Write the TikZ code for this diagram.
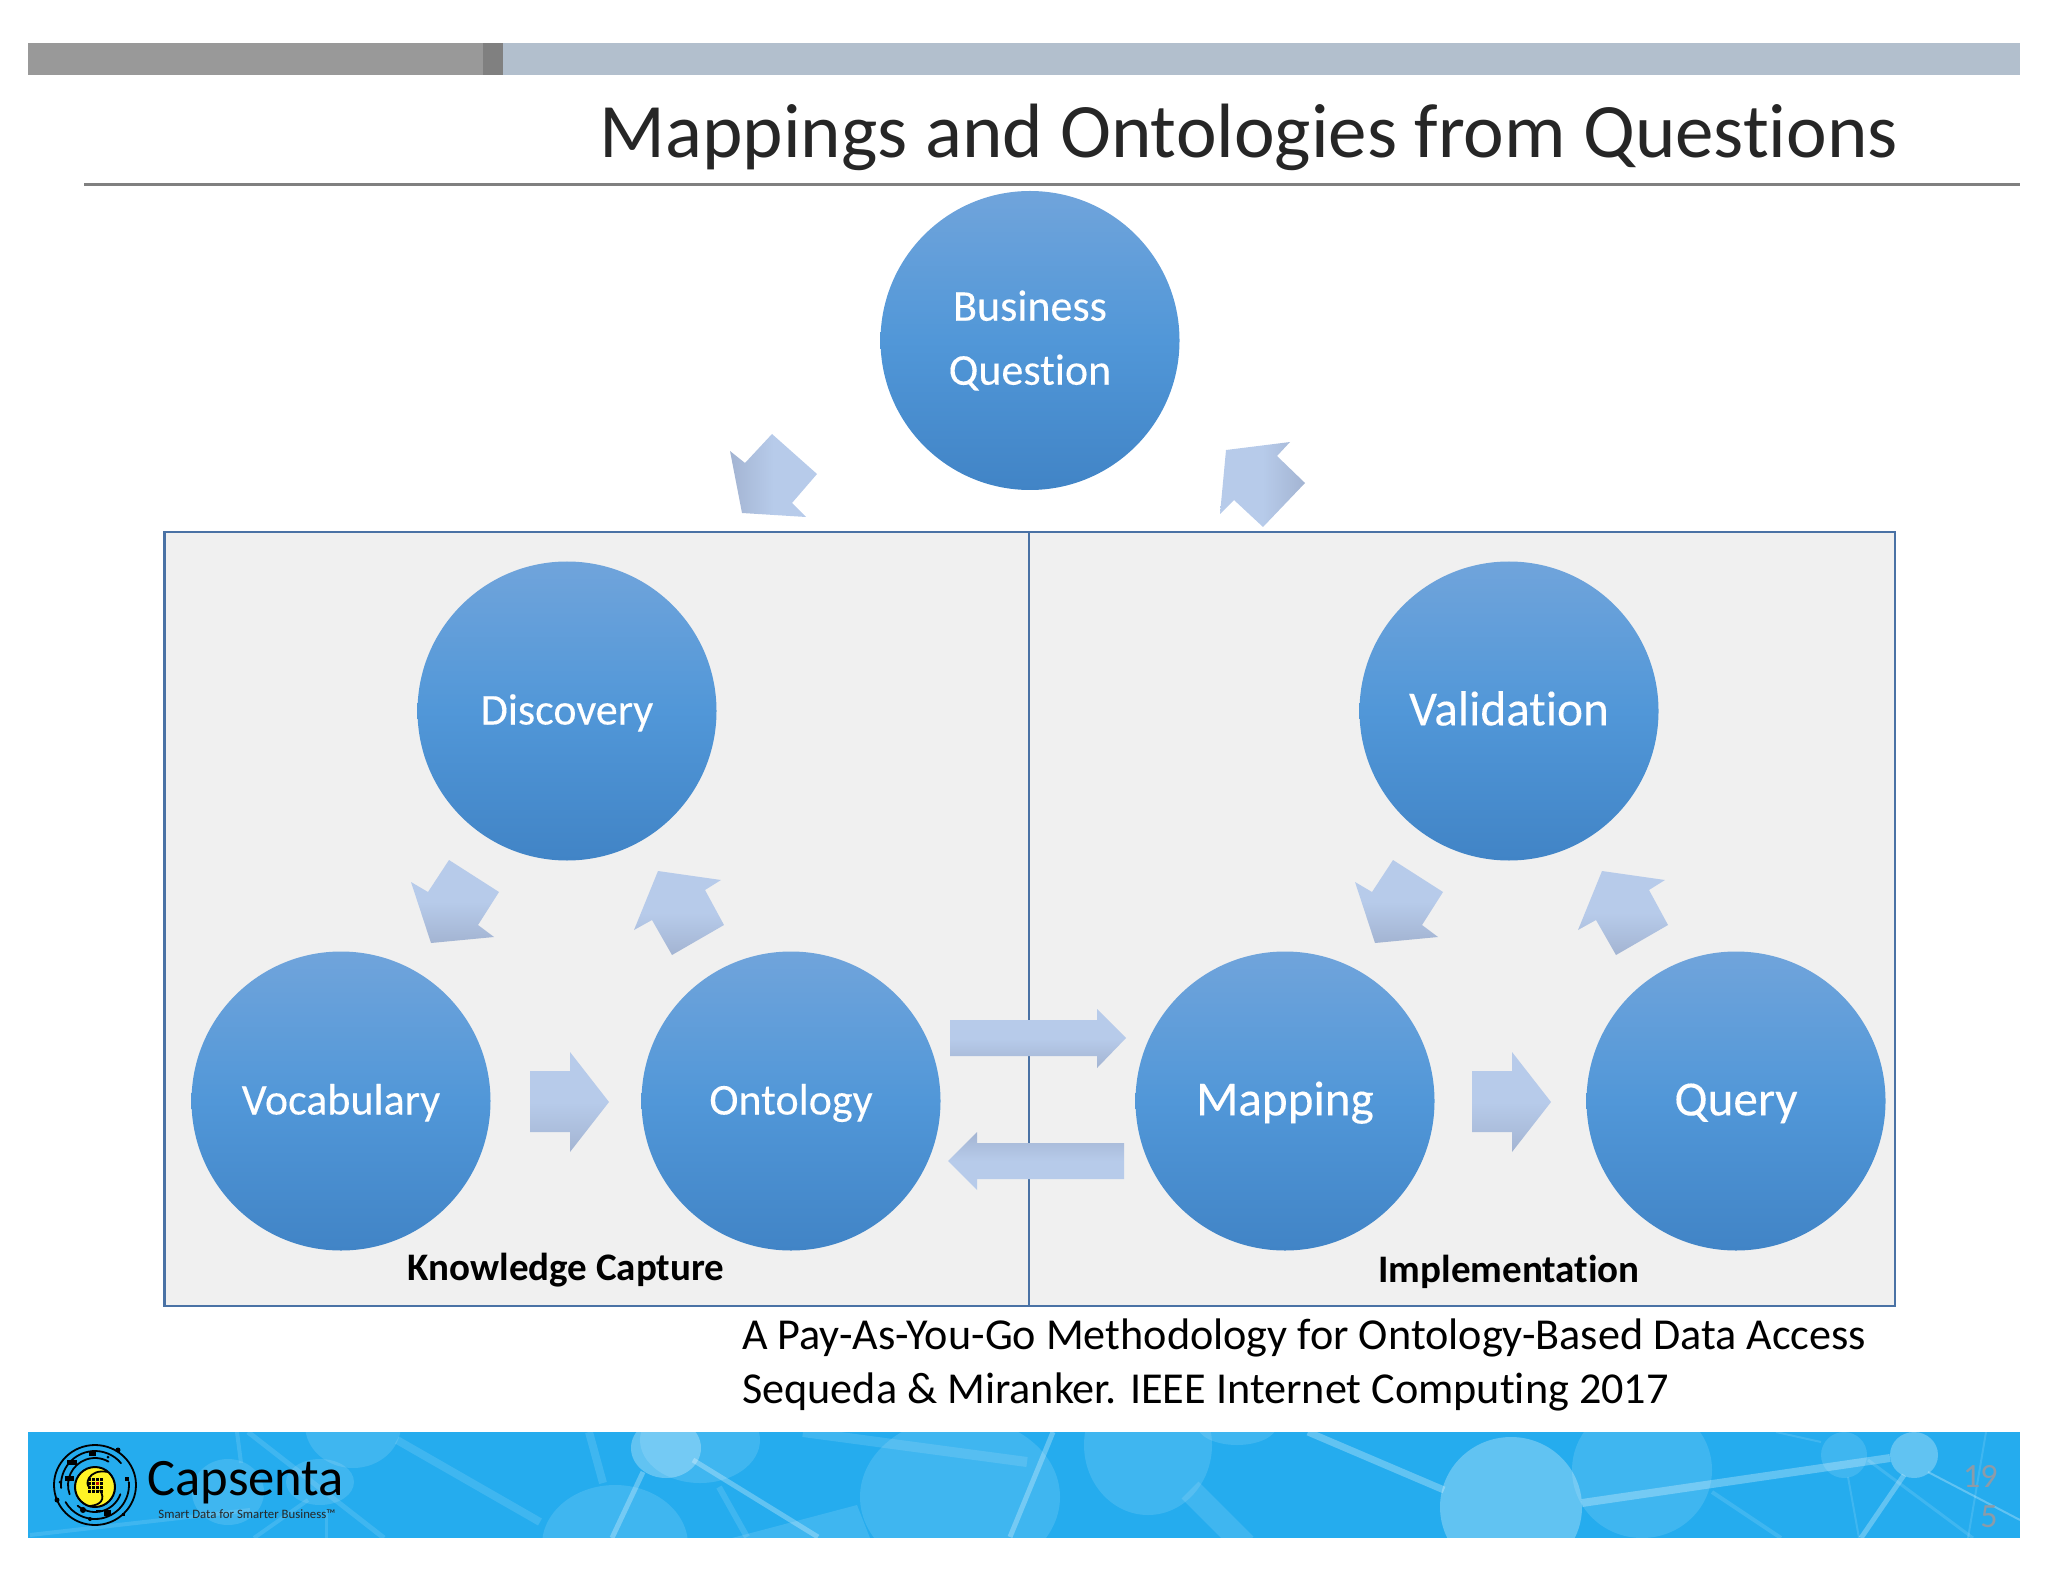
\documentclass[tikz,border=0pt]{standalone}
\usepackage{fontspec}
\setmainfont[Ligatures=NoCommon]{Carlito}
\definecolor{circletop}{HTML}{70A4DB}
\definecolor{circlemid}{HTML}{5197D8}
\definecolor{circlebot}{HTML}{4184C6}
\definecolor{arrowlight}{HTML}{B7CBEA}
\definecolor{arrowdark}{HTML}{A3B4D2}
\definecolor{boxline}{HTML}{4A72A5}
\definecolor{bandblue}{HTML}{25ACEE}
\definecolor{barblue}{HTML}{B2BFCD}
\definecolor{pagegray}{HTML}{8C9BA8}
\tikzset{
  stagecircle/.style={circle,minimum size=149.5pt,inner sep=0pt,top color=circletop,bottom color=circlebot,middle color=circlemid,text=white,align=center},
  questionlabel/.style={font=\fontsize{22}{32}\selectfont\addfontfeature{FakeBold=0.2}},
  smalllabel/.style={font=\fontsize{22}{26}\selectfont\addfontfeature{FakeBold=0.2},text height=15pt,text depth=1.5pt},
  biglabel/.style={font=\fontsize{24.6}{28}\selectfont\addfontfeature{FakeBold=0.2},text height=16pt,text depth=1.6pt},
  blockarrow/.style={top color=arrowlight,bottom color=arrowdark,middle color=arrowlight,shading angle=#1},
  panel/.style={draw=boxline,line width=1.1pt,fill=black!6},
  captionlabel/.style={font=\fontsize{19.5}{22}\selectfont\bfseries},
  midblob/.style={white,opacity=0.12},
  lightblob/.style={white,opacity=0.28},
  midline/.style={white,opacity=0.12,line width=#1},
  lightline/.style={white,opacity=0.28,line width=#1},
  citeline/.style={anchor=west,font=\fontsize{22.1}{24}\selectfont},
  ring/.style={black,line width=0.9pt,line cap=round},
}
\begin{document}
\begin{tikzpicture}[x=0.5pt,y=-0.5pt]
\useasboundingbox (0,0) rectangle (2048,1582);
% top bar and title
\fill[black!40] (28,43) rectangle (483,75);
\fill[black!50] (483,43) rectangle (503,75);
\fill[barblue] (503,43) rectangle (2020,75);
\draw[black!50,line width=1.5pt] (84,184.5) -- (2020,184.5);
\node[anchor=east,text=black!85,font=\fontsize{38.5}{42}\selectfont] (title) at (1905,137) {Mappings and Ontologies from Questions};
% panels
\draw[panel] (164.5,532) rectangle (1029,1306);
\draw[panel] (1029,532) rectangle (1895,1306);
% circles
\node[stagecircle,questionlabel] (question) at (1030,340.5) {Business\\Question};
\node[stagecircle,smalllabel] (discovery) at (567,711) {Discovery};
\node[stagecircle,smalllabel] (vocabulary) at (341,1101) {Vocabulary};
\node[stagecircle,smalllabel] (ontology) at (791,1101) {Ontology};
\node[stagecircle,biglabel] (validation) at (1509,711) {Validation};
\node[stagecircle,biglabel] (mapping) at (1285,1101) {Mapping};
\node[stagecircle,biglabel] (query) at (1736,1101) {Query};
% block arrows
\shade[blockarrow=270] (772,434) -- (817,474) -- (792,503) -- (806,517) -- (742,513) -- (730,451) -- (745,463) -- cycle;
\shade[blockarrow=90] (1226,450) -- (1290,442) -- (1277,456) -- (1305,483) -- (1263,527) -- (1234,500) -- (1220,514) -- cycle;
\shade[blockarrow=0] (449,860) -- (499,892) -- (478,925) -- (494,937) -- (431,943) -- (411,882) -- (428,892) -- cycle;
\shade[blockarrow=0] (658,871) -- (721,880) -- (705,890) -- (724,925) -- (672,955) -- (652,920) -- (634,930) -- cycle;
\shade[blockarrow=0] (530,1071) -- (570,1071) -- (570,1052) -- (609,1102) -- (570,1152) -- (570,1132) -- (530,1132) -- cycle;
\shade[blockarrow=0] (1393,860) -- (1443,892) -- (1422,925) -- (1438,937) -- (1375,943) -- (1355,882) -- (1372,892) -- cycle;
\shade[blockarrow=0] (1602,871) -- (1665,880) -- (1649,890) -- (1668,925) -- (1616,955) -- (1596,920) -- (1578,930) -- cycle;
\shade[blockarrow=0] (1472,1071) -- (1512,1071) -- (1512,1052) -- (1551,1102) -- (1512,1152) -- (1512,1132) -- (1472,1132) -- cycle;
\shade[blockarrow=0] (950,1020) -- (1097,1020) -- (1097,1009) -- (1126,1038) -- (1097,1068) -- (1097,1056) -- (950,1056) -- cycle;
\shade[blockarrow=180] (1124,1143) -- (977,1143) -- (977,1132) -- (948,1161) -- (977,1190) -- (977,1179) -- (1124,1179) -- cycle;
% panel captions and citation
\node[captionlabel] (capture) at (566,1270) {Knowledge Capture};
\node[captionlabel] (implementation) at (1509,1272) {Implementation};
\node[citeline] (citetitle) at (735,1338) {A Pay-As-You-Go Methodology for Ontology-Based Data Access};
\node[citeline] (citeauthors) at (735,1392) {Sequeda \& Miranker. IEEE Internet Computing 2017};
% footer band
\fill[bandblue] (28,1432) rectangle (2020,1538);
\begin{scope}
\clip (28,1432) rectangle (2020,1538);
\fill[midblob] (353,1425) ellipse (48 and 43);
\fill[midblob] (320,1482) ellipse (34 and 23);
\fill[midblob] (228,1492) ellipse (36 and 33);
\fill[midblob] (615,1545) ellipse (73 and 60);
\fill[midblob] (700,1440) ellipse (60 and 43);
\fill[midblob] (960,1497) ellipse (100 and 80);
\fill[midblob] (1148,1445) ellipse (64 and 70);
\fill[midblob] (1237,1425) ellipse (40 and 20);
\fill[midblob] (1642,1470) ellipse (70 and 68);
\fill[midblob] (1844,1455) ellipse (23 and 23);
\fill[midblob] (732,1538) -- (857,1505) -- (870,1538) -- cycle;
\draw[midline=2.5pt] (248,1432) -- (384,1538);
\draw[midline=4pt] (397,1440) -- (540,1522);
\draw[midline=2pt] (237,1432) -- (241,1463);
\draw[midline=2pt] (308,1500) -- (254,1538);
\draw[midline=1.5pt] (326,1510) -- (326,1538);
\draw[midline=2pt] (30,1535) -- (250,1510);
\draw[midline=4pt] (589,1432) -- (603,1483);
\draw[midline=3pt] (719,1487) -- (747,1537);
\draw[midline=5pt] (803,1432) -- (1027,1462);
\draw[midline=12pt] (1190,1490) -- (1245,1545);
\draw[midline=2pt] (1712,1492) -- (1781,1538);
\draw[midline=1.5pt] (1868,1460) -- (1973,1538);
\draw[midline=1pt] (1848,1477) -- (1859,1538);
\draw[midline=1pt] (1986,1432) -- (1968,1538);
\draw[midline=1pt] (1776,1432) -- (1821,1442);
\fill[lightblob] (666,1448) ellipse (35 and 30);
\fill[lightblob] (1511,1507) ellipse (71 and 70);
\fill[lightblob] (1914,1455) ellipse (24 and 23);
\draw[lightline=2.5pt] (643,1472) -- (612,1538);
\draw[lightline=2.5pt] (693,1460) -- (818,1537);
\draw[lightline=2.5pt] (1053,1432) -- (1010,1537);
\draw[lightline=3.5pt] (1308,1432) -- (1444,1490);
\draw[lightline=4pt] (1582,1503) -- (1890,1458);
\draw[lightline=2.5pt] (1904,1475) -- (1861,1538);
\draw[lightline=1pt] (1928,1472) -- (2020,1520);
\end{scope}
% logo
\draw[ring] (95,1485) ellipse (41 and 40);
\draw[ring] (95,1485) ++(-5:34) arc (-5:150:34);
\draw[ring] (95,1485) ++(175:34) arc (175:320:34);
\draw[ring] (95,1485) ++(20:27) arc (20:130:27);
\draw[ring] (95,1485) ++(160:27) arc (160:300:27);
\fill[yellow!85!white] (95,1487) circle (20);
\draw[black,line width=1pt] (95,1487) circle (20);
\draw[black,line width=0.9pt] (108,1472) .. controls (88,1468) and (84,1486) .. (90,1487);
\draw[black,line width=0.9pt] (100,1490) .. controls (106,1500) and (100,1505) .. (90,1506);
\foreach \dx in {-4.5,-1.5,1.5,4.5} {
  \foreach \dy in {-4.5,-1.5,1.5,4.5} {
    \fill[black] (94+\dx*1.3,1484+\dy*1.3) rectangle ++(2.8,2.8);
  }
}
\fill[red!80!black] (96,1482) rectangle ++(2.8,2.8);
\fill[black] (118,1450) circle (2.5);
\fill[black] (57,1500) circle (2.5);
\fill[black] (83,1510) circle (3);
\fill[black] (90,1519) circle (2);
\fill[black] (67,1460) rectangle ++(10,5);
\fill[black] (65,1476) rectangle ++(9,5);
\fill[black] (104,1510) rectangle ++(7,6);
\fill[black] (89,1452) rectangle ++(7,4);
\fill[black] (125,1477) rectangle ++(4,4);
\fill[black] (96,1510) rectangle ++(5,2);
\fill[black] (60,1482) circle (1.5);
\fill[black] (108,1457) circle (1.5);
\fill[black] (122,1513) rectangle ++(3,3);
% logo text
\node[anchor=west,inner sep=0pt,font=\fontsize{26.3}{30}\selectfont] (brand) at (147,1483) {Capsenta};
\node[anchor=west,inner sep=0pt,font=\fontsize{6.4}{8}\selectfont,text=black!85] (slogan) at (158,1514) {Smart Data for Smarter Business™};
\node[text=pagegray,align=right,anchor=east,inner sep=0pt,font=\fontsize{17}{20}\selectfont] (pagenum) at (1998,1497) {19\\5};
\end{tikzpicture}
\end{document}
